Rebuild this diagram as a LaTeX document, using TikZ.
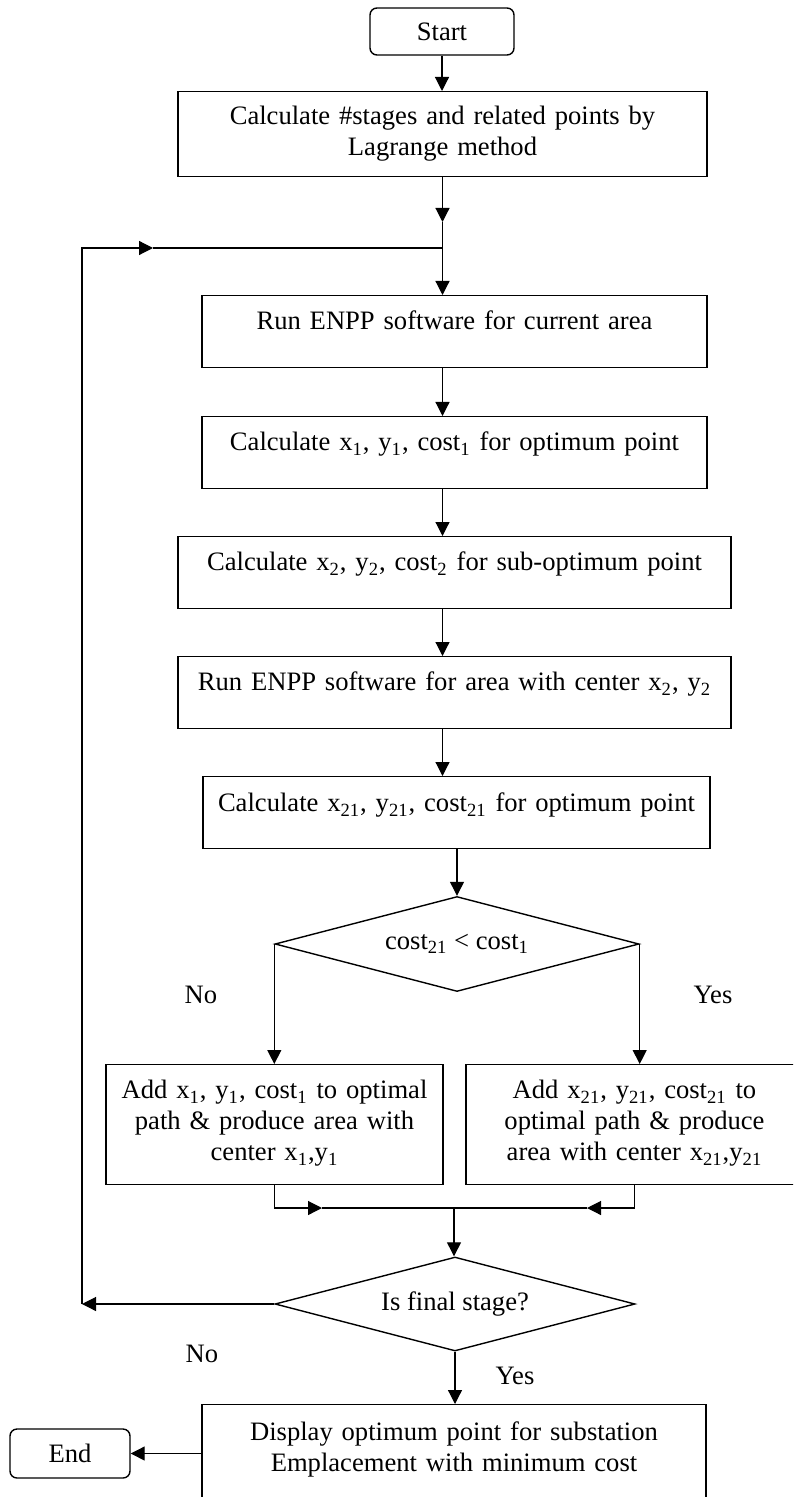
\documentclass[tikz,border=0pt]{standalone}
\usepackage{fontspec}
\setmainfont{Liberation Serif}
\usetikzlibrary{arrows.meta,shapes.geometric}

\tikzset{
  stepbox/.style={draw, rectangle, anchor=north, inner xsep=0pt, inner ysep=0pt, align=center, line width=0.7pt},
  termbox/.style={draw, rectangle, rounded corners=3.5pt, inner sep=0pt, line width=0.7pt},
  decision/.style={draw, diamond, aspect=3.8, inner sep=0pt, line width=0.7pt},
  arr/.style={-{Triangle[length=7pt,width=7pt]}, line width=0.6pt},
  conn/.style={line width=0.6pt}
}

\begin{document}
\begin{tikzpicture}[x=0.5pt, y=-0.5pt, font=\fontsize{13.3}{15.5}\selectfont]
\useasboundingbox (0,0) rectangle (793,1497);
\clip (0,0) rectangle (793,1497);

% main column
\node[termbox, minimum width=72pt, minimum height=23.5pt] (start) at (442,31.5) {Start};
\node[stepbox, text width=264.5pt, text height=16.5pt, text depth=26pt] (lagr) at (442.5,91)
  {Calculate \#stages and related points by\\ Lagrange method};
\node[stepbox, text width=252.5pt, text height=17pt, text depth=19pt] (runcur) at (454.5,295)
  {Run ENPP software for current area};
\node[stepbox, text width=252.5pt, text height=17pt, text depth=19pt] (opt1) at (454.5,416)
  {Calculate x\textsubscript{1}, y\textsubscript{1}, cost\textsubscript{1} for optimum point};
\node[stepbox, text width=276.5pt, text height=17pt, text depth=19pt] (sub2) at (454.5,536)
  {Calculate x\textsubscript{2}, y\textsubscript{2}, cost\textsubscript{2} for sub-optimum point};
\node[stepbox, text width=276.5pt, text height=17pt, text depth=19pt] (run2) at (454.5,656)
  {Run ENPP software for area with center x\textsubscript{2}, y\textsubscript{2}};
\node[stepbox, text width=253.5pt, text height=17.5pt, text depth=18.5pt] (opt21) at (456.5,776)
  {Calculate x\textsubscript{21}, y\textsubscript{21}, cost\textsubscript{21} for optimum point};
\node[decision, minimum width=182pt, minimum height=47.5pt] (cmp) at (457,944)
  {cost\textsubscript{21} < cost\textsubscript{1}};

% branches
\node[stepbox, text width=168.5pt, text height=17pt, text depth=43pt] (keep1) at (274.5,1064)
  {Add x\textsubscript{1}, y\textsubscript{1}, cost\textsubscript{1} to optimal\\ path \& produce area with\\ center x\textsubscript{1},y\textsubscript{1}};
\node[stepbox, text width=168.5pt, text height=17pt, text depth=43pt] (keep21) at (634.5,1064)
  {Add x\textsubscript{21}, y\textsubscript{21}, cost\textsubscript{21} to\\ optimal path \& produce\\ area with center x\textsubscript{21},y\textsubscript{21}};
\node[decision, minimum width=180pt, minimum height=47pt] (final) at (455,1304) {Is final stage?};
\node[stepbox, text width=252pt, text height=18pt, text depth=50pt] (disp) at (454,1404)
  {Display optimum point for substation\\ Emplacement with minimum cost};
\node[termbox, minimum width=60pt, minimum height=24.5pt] (end) at (70,1453.5) {End};

% labels
\node (no1) at (201,995) {No};
\node (yes1) at (713,995) {Yes};
\node (no2) at (202,1354) {No};
\node (yes2) at (515,1376) {Yes};

% joints
\coordinate (h1) at (442.5,222);
\coordinate (j1) at (442.5,248);
\coordinate (h2) at (153,248);
\coordinate (loopL) at (82,248);
\coordinate (loopB) at (82,1304);
\coordinate (m1) at (274.5,1208);
\coordinate (h3) at (322,1208);
\coordinate (mj) at (454,1208);
\coordinate (h4) at (587,1208);
\coordinate (m2) at (634.5,1208);

% connectors
\draw[arr] (start.south) -- (start.south |- lagr.north);
\draw[arr] (lagr.south -| h1) -- (h1);
\draw[conn] (h1) -- (j1);
\draw[arr] (j1) -- (j1 |- runcur.north);
\draw[arr] (runcur.south -| j1) -- (j1 |- opt1.north);
\draw[arr] (opt1.south -| j1) -- (j1 |- sub2.north);
\draw[arr] (sub2.south -| j1) -- (j1 |- run2.north);
\draw[arr] (run2.south -| j1) -- (j1 |- opt21.north);
\draw[arr] (opt21.south -| cmp.north) -- (cmp.north);
\draw[arr] (cmp.west) -- (cmp.west |- keep1.north);
\draw[arr] (cmp.east) -- (cmp.east |- keep21.north);
\draw[arr] (keep1.south) -- (m1) -- (h3);
\draw[conn] (h3) -- (mj);
\draw[arr] (keep21.south) -- (m2) -- (h4);
\draw[conn] (h4) -- (mj);
\draw[arr] (mj) -- (mj |- final.north);
\draw[arr] (final.west) -- (loopB);
\draw[arr] (loopB) -- (loopL) -- (h2);
\draw[conn] (h2) -- (j1);
\draw[arr] (final.south) -- (final.south |- disp.north);
\draw[arr] (disp.west |- end) -- (end.east);
\end{tikzpicture}
\end{document}
